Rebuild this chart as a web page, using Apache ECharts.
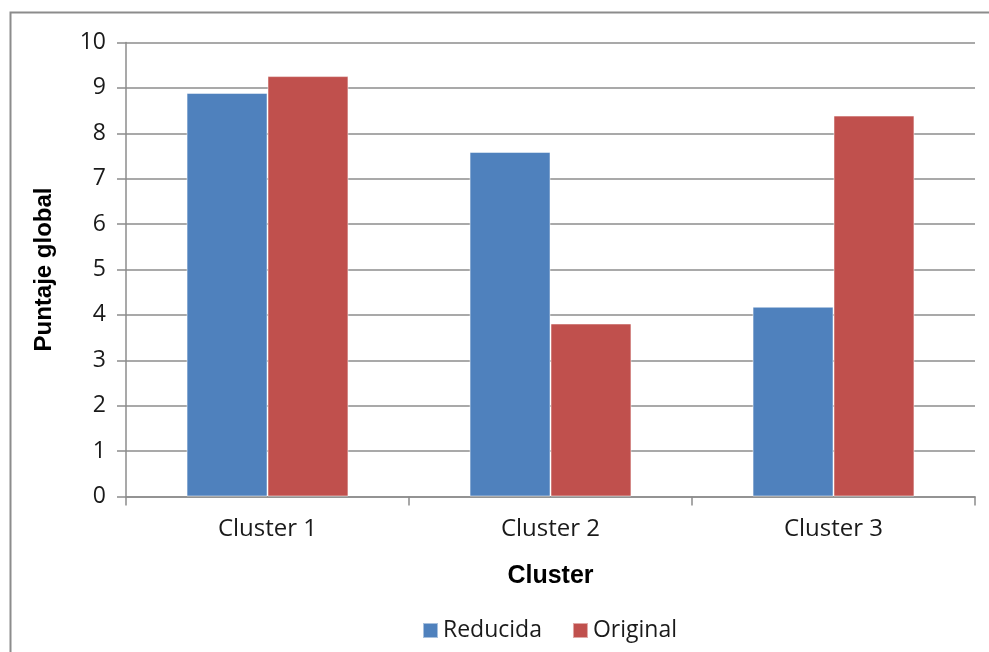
<!DOCTYPE html>
<html>
<head>
<meta charset="utf-8">
<script src="https://cdn.jsdelivr.net/npm/echarts@6/dist/echarts.min.js"></script>
<style>
  html, body { margin: 0; padding: 0; background: #fff; }
  #chart { width: 989px; height: 652px; }
</style>
</head>
<body>
<div id="chart"></div>
<script>
// Cluster scores for the reduced and the original instrument
const categories = ['Cluster 1', 'Cluster 2', 'Cluster 3'];
const reducida = [8.89, 7.59, 4.18];
const original = [9.26, 3.81, 8.39];
const seriesNames = ['Reducida', 'Original'];

const labelFont = '"Open Sans", "DejaVu Sans", sans-serif';
const titleFont = '"Liberation Sans", Arial, sans-serif';

const chart = echarts.init(document.getElementById('chart'));
chart.setOption({
  animation: false,
  backgroundColor: '#ffffff',
  graphic: [{
    type: 'rect',
    shape: { x: 10.5, y: 12.5, width: 1000, height: 700 },
    style: { fill: 'none', stroke: '#8c8c8c', lineWidth: 2 },
    silent: true
  }],
  grid: { left: 126, right: 14, top: 42.5, bottom: 155.5 },
  legend: {
    data: seriesNames,
    bottom: 5,
    left: 417,
    icon: 'rect',
    itemWidth: 15,
    itemHeight: 15,
    itemGap: 30,
    textStyle: { fontFamily: labelFont, fontSize: 23, color: '#1a1a1a' }
  },
  xAxis: {
    type: 'category',
    data: categories,
    name: 'Cluster',
    nameLocation: 'middle',
    nameGap: 67,
    nameTextStyle: { fontFamily: titleFont, fontWeight: 'bold', fontSize: 25, color: '#000' },
    axisLine: { lineStyle: { color: '#8c8c8c', width: 1.5 } },
    axisTick: { show: true, length: 9, lineStyle: { color: '#8c8c8c', width: 1.5 } },
    axisLabel: { fontFamily: labelFont, fontSize: 24, color: '#1a1a1a', margin: 21 }
  },
  yAxis: {
    type: 'value',
    min: 0,
    max: 10,
    interval: 1,
    name: 'Puntaje global',
    nameLocation: 'middle',
    nameGap: 70,
    nameTextStyle: { fontFamily: titleFont, fontWeight: 'bold', fontSize: 24, color: '#000' },
    axisLine: { show: true, lineStyle: { color: '#8c8c8c', width: 1.5 } },
    axisTick: { show: true, length: 9, lineStyle: { color: '#8c8c8c', width: 1.5 } },
    axisLabel: { fontFamily: labelFont, fontSize: 23, color: '#1a1a1a', margin: 20 },
    splitLine: { lineStyle: { color: '#8c8c8c', width: 1.5 } }
  },
  series: [
    {
      name: seriesNames[0],
      type: 'bar',
      data: reducida,
      barGap: '0%',
      barCategoryGap: '42.8%',
      itemStyle: { color: '#4F81BD', borderColor: 'rgba(255,255,255,0.5)', borderWidth: 1 }
    },
    {
      name: seriesNames[1],
      type: 'bar',
      data: original,
      barGap: '0%',
      barCategoryGap: '42.8%',
      itemStyle: { color: '#C0504D', borderColor: 'rgba(255,255,255,0.5)', borderWidth: 1 }
    }
  ]
});
</script>
</body>
</html>
